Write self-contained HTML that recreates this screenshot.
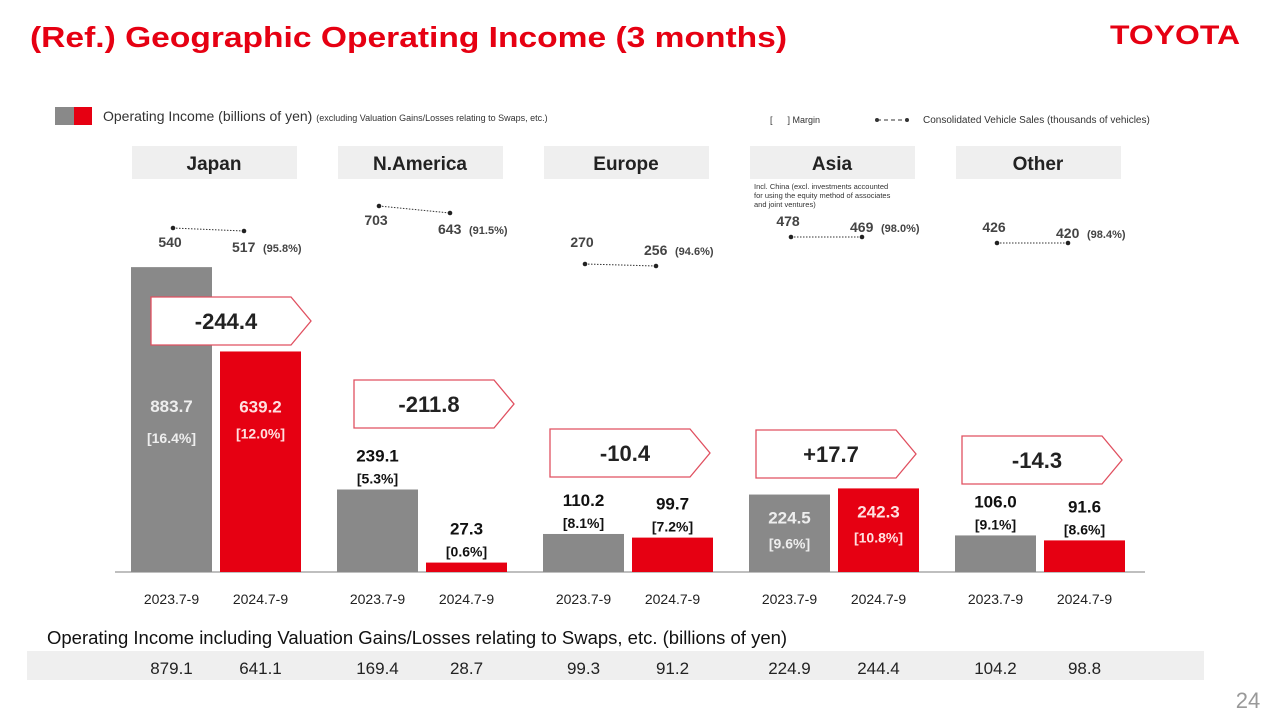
<!DOCTYPE html>
<html><head><meta charset="utf-8">
<style>
html,body{margin:0;padding:0;background:#fff;}
body{width:1280px;height:720px;position:relative;overflow:hidden;font-family:"Liberation Sans",Arial,sans-serif;}
svg{position:absolute;left:0;top:0;}
</style></head>
<body>
<svg id="chart" width="1280" height="720" viewBox="0 0 1280 720">
  <text x="30" y="47" font-size="29" font-weight="bold" fill="#e60012" textLength="757" lengthAdjust="spacingAndGlyphs">(Ref.) Geographic Operating Income (3 months)</text>
  <text x="1110" y="44" font-size="27" font-weight="bold" fill="#e60012" textLength="130" lengthAdjust="spacingAndGlyphs">TOYOTA</text>
  <g>
    <rect x="55" y="107" width="19" height="18" fill="#898989"/>
    <rect x="74" y="107" width="18" height="18" fill="#e60012"/>
    <text x="103" y="121" font-size="14" fill="#333">Operating Income (billions of yen) <tspan font-size="9">(excluding Valuation Gains/Losses relating to Swaps, etc.)</tspan></text>
    <text x="770" y="123" font-size="9" fill="#333">[&#160;&#160;&#160;&#160;&#160;&#160;] Margin</text>
    <line x1="877" y1="120" x2="907" y2="120" stroke="#333" stroke-dasharray="4,3"/>
    <circle cx="877" cy="120" r="2" fill="#333"/><circle cx="907" cy="120" r="2" fill="#333"/>
    <text x="923" y="123" font-size="10" fill="#333">Consolidated Vehicle Sales (thousands of vehicles)</text>
  </g>
  <text x="754" y="189" font-size="7.5" fill="#333"><tspan x="754">Incl. China (excl. investments accounted</tspan><tspan x="754" dy="9">for using the equity method of associates</tspan><tspan x="754" dy="9">and joint ventures)</tspan></text>
  <text x="47" y="644" font-size="18.5" fill="#111">Operating Income including Valuation Gains/Losses relating to Swaps, etc. (billions of yen)</text>
  <rect x="27" y="651" width="1177" height="29" fill="#efefef"/>
  <g id="marks"></g>
  <text x="1248" y="708" font-size="22" fill="#999" text-anchor="middle">24</text>
</svg>
<script>
const regions = ["Japan","N.America","Europe","Asia","Other"];
const income2023 = [883.7,239.1,110.2,224.5,106.0];
const income2024 = [639.2,27.3,99.7,242.3,91.6];
const margin2023 = ["16.4%","5.3%","8.1%","9.6%","9.1%"];
const margin2024 = ["12.0%","0.6%","7.2%","10.8%","8.6%"];
const changes = ["-244.4","-211.8","-10.4","+17.7","-14.3"];
const sales2023 = [540,703,270,478,426];
const sales2024 = [517,643,256,469,420];
const salesRatio = ["(95.8%)","(91.5%)","(94.6%)","(98.0%)","(98.4%)"];
const swap2023 = ["879.1","169.4","99.3","224.9","104.2"];
const swap2024 = ["641.1","28.7","91.2","244.4","98.8"];
const periods = ["2023.7-9","2024.7-9"];

const NS="http://www.w3.org/2000/svg";
const g=document.getElementById('marks');
const baseY=572, pxPer=0.345, groupX0=131, groupStep=206, barW=81, barGap=89;
const y=v=>baseY-v*pxPer;
const bx=(i,k)=>groupX0+i*groupStep+k*barGap;
function mk(tag,attrs,text){const e=document.createElementNS(NS,tag);for(const k in attrs)e.setAttribute(k,attrs[k]);if(text!==undefined)e.textContent=text;g.appendChild(e);return e;}
const dotY=[[228,231],[206,213],[264,266],[237,237],[243,243]];
const arrowY=[297,380,429,430,436];
const arrowDX=[20,17,7,7,7];
const inside=[true,false,false,true,false];

mk('line',{x1:115,y1:baseY,x2:1145,y2:baseY,stroke:'#aaa','stroke-width':1.5,});
regions.forEach((r,i)=>{
  const gx=bx(i,0);
  let e=mk('rect',{x:gx+1,y:146,width:165,height:33,fill:'#efefef'});
  
  
  e=mk('text',{x:gx+83,y:170,'font-size':19,'font-weight':'bold','text-anchor':'middle',fill:'#222'},r);
  
  
  [income2023[i],income2024[i]].forEach((v,k)=>{
    const x=bx(i,k);
    e=mk('rect',{x:x,y:y(v),width:barW,height:v*pxPer,fill:k?'#e60012':'#898989'});
    
    
    const m=k?margin2024[i]:margin2023[i];
    let ty, col, gap=22;
    if(inside[i]){ty=y(v)+(i===0?145:29); col=k?'#ffe0e0':'#eee'; gap=(i===0?31:25);}
    else{ty=y(v)-28; col='#111';}
    if(i===0&&k===1){ty=y(v)+61; gap=26;}
    e=mk('text',{x:x+barW/2,y:ty,'font-size':17,'font-weight':'bold','text-anchor':'middle',fill:col},v.toFixed(1));
    
    
    e=mk('text',{x:x+barW/2,y:ty+gap,'font-size':14,'font-weight':'bold','text-anchor':'middle',fill:col},'['+m+']');
    
    
    e=mk('text',{x:x+barW/2,y:604,'font-size':14,'text-anchor':'middle',fill:'#222'},periods[k]);
    
    
    e=mk('text',{x:x+barW/2,y:674,'font-size':17,'text-anchor':'middle',fill:'#222'},k?swap2024[i]:swap2023[i]);
    
    
  });
  const ay=arrowY[i];
  const ax=gx+arrowDX[i];
  const ah=48, aw=140;
  e=mk('path',{d:`M${ax},${ay} h${aw} l20,${ah/2} l-20,${ah/2} h-${aw} z`,fill:'#fff',stroke:'#e05060','stroke-width':1.3});
  
  
  e=mk('text',{x:ax+75,y:ay+32,'font-size':22,'font-weight':'bold','text-anchor':'middle',fill:'#222'},changes[i]);
  
  
  const x1=gx+42,x2=gx+113;
  e=mk('line',{x1:x1,y1:dotY[i][0],x2:x2,y2:dotY[i][1],stroke:'#333','stroke-dasharray':'1.5,1.5'});
  
  
  mk('circle',{cx:x1,cy:dotY[i][0],r:2.3,fill:'#222'});
  mk('circle',{cx:x2,cy:dotY[i][1],r:2.3,fill:'#222'});
  const above=(i===3||i===4||i===2);
  const l1y=above?dotY[i][0]-(i===2?17:11):dotY[i][0]+19;
  const l2y=above?dotY[i][1]-(i===2?11:5):dotY[i][1]+21;
  e=mk('text',{x:x1-3,y:l1y,'font-size':14,'font-weight':'bold','text-anchor':'middle',fill:'#444'},sales2023[i]);
  
  
  e=mk('text',{x:x2-12,y:l2y,'font-size':14,'font-weight':'bold',fill:'#444'},sales2024[i]);
  
  
  e=mk('text',{x:x2+19,y:l2y,'font-size':11,'font-weight':'bold',fill:'#444'},salesRatio[i]);
  
  
});
</script>
</body></html>
